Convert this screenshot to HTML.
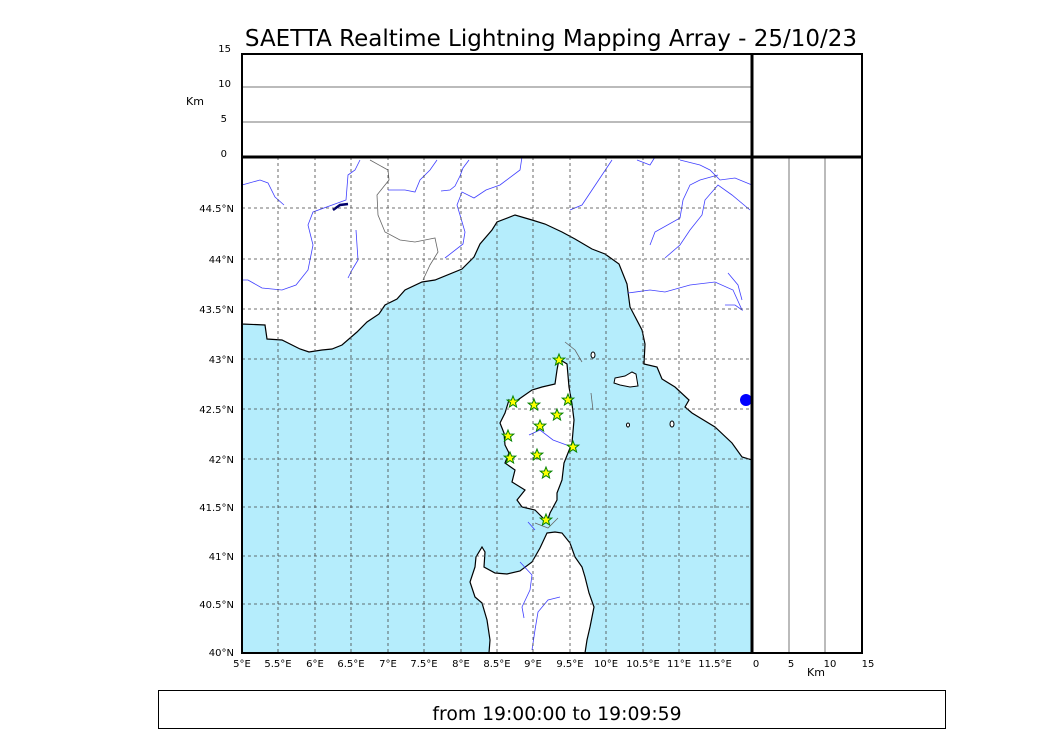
<!DOCTYPE html>
<html><head><meta charset="utf-8"><style>
body{margin:0;background:#fff;}
svg{display:block;font-family:"DejaVu Sans","Liberation Sans",sans-serif;}
</style></head><body>
<svg width="1050" height="750" viewBox="0 0 1050 750">
<rect width="1050" height="750" fill="#fff"/>
<text x="551" y="46" font-size="23" text-anchor="middle">SAETTA Realtime Lightning Mapping Array - 25/10/23</text>
<rect x="242" y="157" width="510" height="496" fill="#b5edfc"/>
<polygon fill="#fff" stroke="#000" stroke-width="1.2" points="242,157 752,157 752,460 742,457 732,443 715,427 692,413 685,407 689,400 675,387 662,379 657,367 644,364 645,344 642,330 630,307 627,284 619,264 605,254 592,249 575,239 562,232 545,224 532,220 515,215 497,222 492,230 480,244 474,257 462,269 435,280 422,282 405,290 397,299 385,305 379,314 367,322 357,332 342,345 332,349 322,350 309,352 300,349 282,340 267,339 265,325 242,324"/>
<polygon fill="#fff" stroke="#000" stroke-width="1.2" points="559,359 567,364 569,387 572,404 574,420 572,443 564,463 562,480 557,493 557,500 550,513 547,522 542,517 535,510 522,507 517,500 525,490 512,482 515,470 505,463 509,453 505,445 504,433 500,423 505,413 509,400 512,404 522,397 532,390 542,387 555,384 557,370"/>
<polygon fill="#fff" stroke="#000" stroke-width="1.2" points="547,533 555,532 562,533 570,543 575,557 582,567 585,577 589,593 594,607 590,627 587,640 585,653 489,653 490,640 487,620 482,603 475,597 470,582 475,567 476,557 482,547 485,552 484,567 495,573 507,574 520,571 532,562 540,548"/>
<polygon fill="#fff" stroke="#000" stroke-width="1" points="615,378 625,376 632,372 636,374 638,386 630,387 620,385 614,383"/>
<ellipse cx="593" cy="355" rx="2" ry="3" fill="#fff" stroke="#000"/>
<ellipse cx="628" cy="425" rx="1.5" ry="2" fill="#fff" stroke="#000"/>
<ellipse cx="672" cy="424" rx="2" ry="3" fill="#fff" stroke="#000"/>
<g fill="none" stroke="#4040ff" stroke-width="0.8">
<polyline points="242,185 260,180 268,183 275,197 284,205"/>
<polyline points="360,160 355,170 348,175 346,200 313,212 308,225 313,245 308,270 296,285 282,290 262,288 248,280 242,280"/>
<polyline points="356,230 358,260 352,270 348,278"/>
<polyline points="388,190 405,190 415,192 420,180 430,170 437,160"/>
<polyline points="441,191 450,190 455,186 460,176 463,168 469,160"/>
<polyline points="522,157 520,170 500,185 486,190 474,198 462,192 457,205 460,215 465,232 463,244 445,258"/>
<polyline points="612,160 600,178 582,205 570,210"/>
<polyline points="637,160 650,165 655,157"/>
<polyline points="680,160 700,165 710,170 720,180 735,178 752,185"/>
<polyline points="650,245 655,232 680,218 683,200 690,185 700,180 718,175"/>
<polyline points="665,258 680,245 690,230 702,215 705,200 718,185 732,195 750,210"/>
<polyline points="628,293 650,290 665,292 690,285 715,282 733,290 742,310 735,305 725,305"/>
<polyline points="728,273 738,285 742,300"/>
<polyline points="528,522 535,530"/>
<polyline points="520,562 532,575 530,590 522,607 524,618"/>
<polyline points="560,597 548,600 538,612 535,630 532,650"/>
<polyline points="529,435 540,430 553,440 572,447"/>
</g>
<g fill="none" stroke="#666" stroke-width="0.8">
<polyline points="370,160 388,170 389,180 377,195 378,215 385,232 400,240 415,242 425,240 435,238 438,252 430,265 423,280"/>
<polyline points="565,342 575,350 582,362"/>
<polyline points="591,393 593,410"/>
<polyline points="535,523 548,528 558,518"/>
</g>
<path d="M333,210 L340,205 L348,204" stroke="#00006a" stroke-width="2.5" fill="none"/>
<g stroke="#444" stroke-width="0.8" stroke-dasharray="3,3">
<line x1="278" y1="157" x2="278" y2="653"/><line x1="315" y1="157" x2="315" y2="653"/>
<line x1="351" y1="157" x2="351" y2="653"/><line x1="388" y1="157" x2="388" y2="653"/>
<line x1="424" y1="157" x2="424" y2="653"/><line x1="461" y1="157" x2="461" y2="653"/>
<line x1="497" y1="157" x2="497" y2="653"/><line x1="533" y1="157" x2="533" y2="653"/>
<line x1="570" y1="157" x2="570" y2="653"/><line x1="606" y1="157" x2="606" y2="653"/>
<line x1="643" y1="157" x2="643" y2="653"/><line x1="679" y1="157" x2="679" y2="653"/>
<line x1="715" y1="157" x2="715" y2="653"/>
<line x1="242" y1="208" x2="752" y2="208"/><line x1="242" y1="259" x2="752" y2="259"/>
<line x1="242" y1="309" x2="752" y2="309"/><line x1="242" y1="359" x2="752" y2="359"/>
<line x1="242" y1="409" x2="752" y2="409"/><line x1="242" y1="459" x2="752" y2="459"/>
<line x1="242" y1="507" x2="752" y2="507"/><line x1="242" y1="556" x2="752" y2="556"/>
<line x1="242" y1="604" x2="752" y2="604"/>
</g>
<defs><polygon id="st" points="0,-6 1.6,-2 5.8,-1.9 2.5,0.8 3.6,5 0,2.6 -3.6,5 -2.5,0.8 -5.8,-1.9 -1.6,-2" fill="#ffff00" stroke="#008000" stroke-width="1"/></defs>
<use href="#st" x="559" y="360"/><use href="#st" x="513" y="402"/><use href="#st" x="534" y="405"/>
<use href="#st" x="568" y="400"/><use href="#st" x="557" y="415"/><use href="#st" x="540" y="426"/>
<use href="#st" x="508" y="436"/><use href="#st" x="573" y="447"/><use href="#st" x="537" y="455"/>
<use href="#st" x="510" y="458"/><use href="#st" x="546" y="473"/><use href="#st" x="546" y="520"/>
<line x1="242" y1="87" x2="752" y2="87" stroke="#777" stroke-width="1"/>
<line x1="242" y1="122" x2="752" y2="122" stroke="#777" stroke-width="1"/>
<line x1="789" y1="157" x2="789" y2="653" stroke="#777" stroke-width="1"/>
<line x1="825" y1="157" x2="825" y2="653" stroke="#777" stroke-width="1"/>
<ellipse cx="746" cy="400" rx="6" ry="6" fill="#0000ff"/>
<rect x="242" y="54" width="620" height="599" fill="none" stroke="#000" stroke-width="2"/>
<line x1="242" y1="157" x2="862" y2="157" stroke="#000" stroke-width="3"/>
<line x1="752" y1="54" x2="752" y2="653" stroke="#000" stroke-width="3"/>
<g font-size="10" text-anchor="end">
<text x="231" y="52">15</text><text x="231" y="87">10</text><text x="227" y="122">5</text><text x="227" y="157">0</text>
<text x="234" y="212">44.5°N</text><text x="234" y="263">44°N</text><text x="234" y="313">43.5°N</text>
<text x="234" y="363">43°N</text><text x="234" y="413">42.5°N</text><text x="234" y="463">42°N</text>
<text x="234" y="511">41.5°N</text><text x="234" y="560">41°N</text><text x="234" y="608">40.5°N</text><text x="234" y="656">40°N</text>
</g>
<text x="186" y="105" font-size="11">Km</text>
<g font-size="10" text-anchor="middle">
<text x="242" y="667">5°E</text><text x="278" y="667">5.5°E</text><text x="315" y="667">6°E</text><text x="351" y="667">6.5°E</text>
<text x="388" y="667">7°E</text><text x="424" y="667">7.5°E</text><text x="461" y="667">8°E</text><text x="497" y="667">8.5°E</text>
<text x="533" y="667">9°E</text><text x="570" y="667">9.5°E</text><text x="606" y="667">10°E</text><text x="643" y="667">10.5°E</text>
<text x="679" y="667">11°E</text><text x="715" y="667">11.5°E</text>
<text x="756" y="667">0</text><text x="791" y="667">5</text><text x="830" y="667">10</text><text x="868" y="667">15</text>
</g>
<text x="807" y="676" font-size="11">Km</text>
<rect x="158.5" y="690.5" width="787" height="38" fill="#fff" stroke="#000" stroke-width="1"/>
<text x="557" y="720" font-size="18.8" text-anchor="middle">from 19:00:00 to 19:09:59</text>
</svg>
</body></html>
